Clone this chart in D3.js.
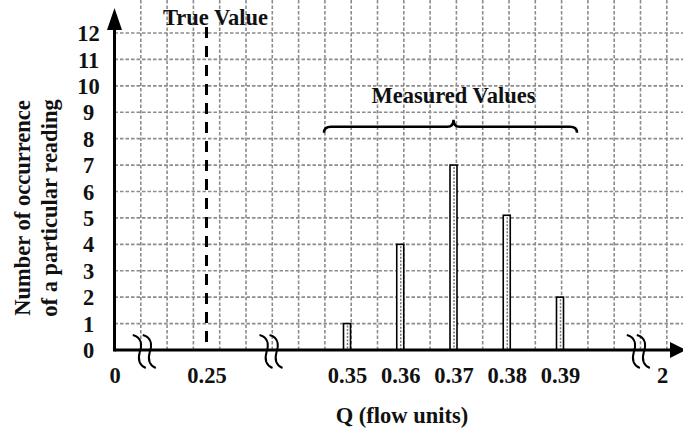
<!DOCTYPE html>
<html>
<head>
<meta charset="utf-8">
<script src="https://cdn.jsdelivr.net/npm/d3@7/dist/d3.min.js"></script>
<style>
  html, body { margin: 0; padding: 0; background: #fff; }
  svg { display: block; }
  text { font-family: "Liberation Serif", "Times New Roman", serif; font-weight: bold; fill: #111; }
</style>
</head>
<body>
<script>
// ---- data ----
const categories = [0.35, 0.36, 0.37, 0.38, 0.39];
const counts = [1, 4, 7, 5.1, 2];
const xTickValues = [0, 0.25, 0.35, 0.36, 0.37, 0.38, 0.39, 2];
const xTickLabels = ["0", "0.25", "0.35", "0.36", "0.37", "0.38", "0.39", "2"];
const yTickValues = [0, 1, 2, 3, 4, 5, 6, 7, 8, 9, 10, 11, 12];
const trueValue = 0.25;
const axisBreaks = [0.085, 0.297, 1.65];
const braceLevel = 8.45;
const gridCols = 21;

const W = 683, H = 431;
const FS = "22.5px";
const svg = d3.select("body").append("svg").attr("width", W).attr("height", H);

// broken (piecewise) x scale
const x = d3.scaleLinear()
  .domain([0, 0.25, 0.35, 0.39, 2])
  .range([114.5, 206.5, 347, 560, 662]);
const y = d3.scaleLinear().domain([0, 12]).range([350, 33]);
const gx = d3.scaleLinear().domain([0, gridCols]).range([114.5, 114.5 + gridCols * 26.3]);

const gridStyle = s => s.attr("stroke", "#8c8c8c").attr("stroke-width", 1.6)
  .attr("stroke-dasharray", "3.5,2").attr("fill", "none");

// grid
svg.append("g").selectAll("line").data(d3.range(1, gridCols + 1)).join("line")
  .attr("x1", d => gx(d)).attr("x2", d => gx(d))
  .attr("y1", 0).attr("y2", y(0))
  .call(gridStyle);
svg.append("g").selectAll("line").data(yTickValues.filter(d => d > 0)).join("line")
  .attr("x1", x(0)).attr("x2", W)
  .attr("y1", d => y(d)).attr("y2", d => y(d))
  .call(gridStyle);

// true value dashed line
svg.append("line")
  .attr("x1", x(trueValue)).attr("x2", x(trueValue))
  .attr("y1", 27).attr("y2", y(0))
  .attr("stroke", "#000").attr("stroke-width", 3)
  .attr("stroke-dasharray", "11,8");

// bars
const bw = 7;
const bars = svg.append("g");
bars.selectAll("rect").data(categories).join("rect")
  .attr("x", d => x(d) - bw / 2).attr("width", bw)
  .attr("y", (d, i) => y(counts[i])).attr("height", (d, i) => y(0) - y(counts[i]))
  .attr("fill", "#fff").attr("stroke", "#000").attr("stroke-width", 1.6);
bars.selectAll("line").data(categories).join("line")
  .attr("x1", d => x(d) + 0.5).attr("x2", d => x(d) + 0.5)
  .attr("y1", (d, i) => y(counts[i]) + 2).attr("y2", y(0))
  .attr("stroke", "#777").attr("stroke-width", 1.5).attr("stroke-dasharray", "2,1.5");

// axes lines
svg.append("line").attr("x1", x(0)).attr("x2", 672).attr("y1", y(0)).attr("y2", y(0))
  .attr("stroke", "#000").attr("stroke-width", 3);
svg.append("line").attr("x1", x(0)).attr("x2", x(0)).attr("y1", y(0) + 1.5).attr("y2", 26)
  .attr("stroke", "#000").attr("stroke-width", 3);
// arrow heads
svg.append("path")
  .attr("d", `M${x(0)},8 L${x(0) + 7.5},30 L${x(0) - 7.5},30 Z`).attr("fill", "#000");
svg.append("path")
  .attr("d", `M686,${y(0)} L670,${y(0) - 8} L670,${y(0) + 8} Z`).attr("fill", "#000");

// axis breaks
const breakG = svg.append("g");
axisBreaks.forEach(b => {
  const cx = x(b), cy = y(0);
  [-5, 5].forEach(off => {
    const px = cx + off;
    breakG.append("path")
      .attr("d", `M${px - 8},${cy - 15} C${px + 2},${cy - 12} ${px + 1},${cy - 4} ${px - 1},${cy + 2} C${px - 3},${cy + 9} ${px - 2},${cy + 15} ${px + 5},${cy + 18}`)
      .attr("fill", "none").attr("stroke", "#000").attr("stroke-width", 2);
  });
});

// x tick labels via axis
const xAxis = d3.axisBottom(x).tickValues(xTickValues).tickSize(0)
  .tickFormat((d, i) => xTickLabels[i]);
const xg = svg.append("g").attr("transform", `translate(0,${y(0)})`).call(xAxis);
xg.select(".domain").remove();
xg.selectAll("text").attr("font-size", FS).attr("dy", null).attr("y", 33)
  .attr("fill", "#111").attr("font-family", '"Liberation Serif", serif').attr("font-weight", "bold");

// y tick labels via axis
const yAxis = d3.axisLeft(y).tickValues(yTickValues).tickSize(0);
const yg = svg.append("g").attr("transform", `translate(${x(0)},0)`).call(yAxis);
yg.select(".domain").remove();
yg.selectAll("text").attr("font-size", FS).attr("x", -26).attr("text-anchor", "middle")
  .attr("dy", "0.34em")
  .attr("fill", "#111").attr("font-family", '"Liberation Serif", serif').attr("font-weight", "bold");

// titles
svg.append("text").attr("x", 402).attr("y", 423).attr("text-anchor", "middle")
  .attr("font-size", FS).text("Q (flow units)");
svg.append("text").attr("transform", "translate(30,208) rotate(-90)").attr("text-anchor", "middle")
  .attr("font-size", FS).text("Number of occurrence");
svg.append("text").attr("transform", "translate(57,208) rotate(-90)").attr("text-anchor", "middle")
  .attr("font-size", FS).text("of a particular reading");

// True value label
svg.append("text").attr("x", x(trueValue) + 9).attr("y", 25).attr("text-anchor", "middle")
  .attr("font-size", FS).text("True Value");

// brace + label (spans the measured categories)
const bx0 = x(categories[0]) - 23, bx1 = x(categories[categories.length - 1]) + 17;
const bm = x(categories[2]), by = y(braceLevel);
svg.append("path")
  .attr("d", `M${bx0},${by + 6} Q${bx0},${by} ${bx0 + 7},${by} L${bm - 6},${by} Q${bm},${by} ${bm},${by - 7} Q${bm},${by} ${bm + 6},${by} L${bx1 - 7},${by} Q${bx1},${by} ${bx1},${by + 6}`)
  .attr("fill", "none").attr("stroke", "#000").attr("stroke-width", 2.5);
svg.append("text").attr("x", bm).attr("y", 103).attr("text-anchor", "middle")
  .attr("font-size", FS).text("Measured Values");
</script>
</body>
</html>
